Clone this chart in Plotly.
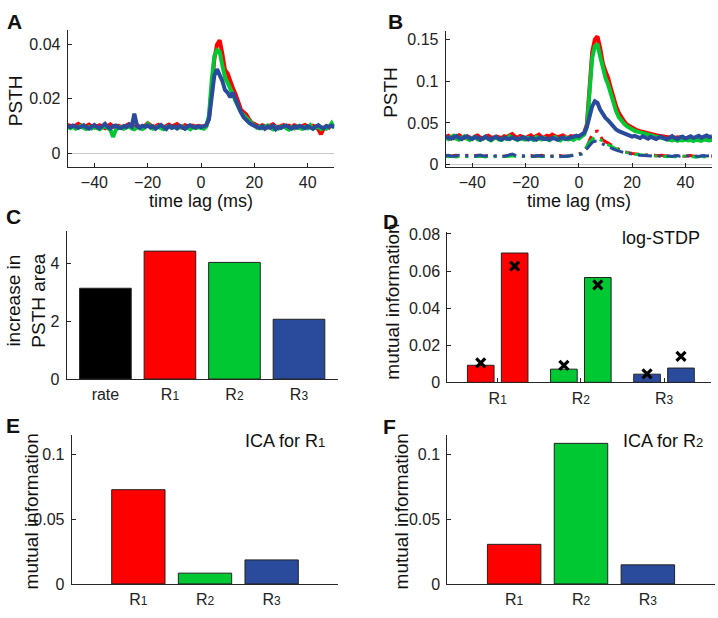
import plotly.graph_objects as go

W, H = 718, 618

# ---------------- data ----------------
t_lag = list(range(-50, 51))

A_red = [0.0104, 0.0100, 0.0097, 0.0102, 0.0108, 0.0101, 0.0096, 0.0100, 0.0105, 0.0098,
         0.0094, 0.0099, 0.0103, 0.0097, 0.0092, 0.0100, 0.0106, 0.0099, 0.0095, 0.0101,
         0.0098, 0.0093, 0.0102, 0.0107, 0.0099, 0.0096, 0.0103, 0.0098, 0.0092, 0.0101,
         0.0110, 0.0103, 0.0095, 0.0099, 0.0104, 0.0097, 0.0093, 0.0100, 0.0105, 0.0098,
         0.0102, 0.0107, 0.0097, 0.0094, 0.0103, 0.0099, 0.0096, 0.0101, 0.0098, 0.0100,
         0.0099, 0.0097, 0.0102, 0.0128, 0.0235, 0.0345, 0.0398, 0.0414, 0.0365, 0.0305,
         0.0292, 0.0262, 0.0238, 0.0215, 0.0185, 0.0160, 0.0150, 0.0142, 0.0125, 0.0112,
         0.0108, 0.0101, 0.0097, 0.0103, 0.0099, 0.0095, 0.0102, 0.0106, 0.0098, 0.0094,
         0.0100, 0.0104, 0.0097, 0.0101, 0.0096, 0.0103, 0.0099, 0.0093, 0.0100, 0.0104,
         0.0098, 0.0095, 0.0101, 0.0097, 0.0088, 0.0070, 0.0090, 0.0099, 0.0094, 0.0101,
         0.0100]
A_green = [0.0098, 0.0092, 0.0097, 0.0090, 0.0095, 0.0101, 0.0093, 0.0089, 0.0096, 0.0091,
           0.0097, 0.0093, 0.0088, 0.0095, 0.0099, 0.0092, 0.0087, 0.0060, 0.0085, 0.0094,
           0.0097, 0.0090, 0.0094, 0.0099, 0.0091, 0.0088, 0.0096, 0.0093, 0.0089, 0.0095,
           0.0108, 0.0096, 0.0090, 0.0094, 0.0099, 0.0092, 0.0088, 0.0095, 0.0100, 0.0093,
           0.0097, 0.0091, 0.0095, 0.0099, 0.0090, 0.0094, 0.0088, 0.0096, 0.0092, 0.0095,
           0.0093, 0.0090, 0.0098, 0.0140, 0.0265, 0.0355, 0.0378, 0.0372, 0.0322, 0.0278,
           0.0258, 0.0240, 0.0215, 0.0190, 0.0168, 0.0150, 0.0140, 0.0132, 0.0120, 0.0110,
           0.0102, 0.0094, 0.0098, 0.0091, 0.0097, 0.0102, 0.0093, 0.0088, 0.0096, 0.0090,
           0.0095, 0.0100, 0.0092, 0.0087, 0.0096, 0.0091, 0.0098, 0.0093, 0.0089, 0.0097,
           0.0092, 0.0103, 0.0090, 0.0095, 0.0098, 0.0089, 0.0094, 0.0090, 0.0096, 0.0110,
           0.0092]
A_blue = [0.0100, 0.0096, 0.0102, 0.0099, 0.0093, 0.0097, 0.0103, 0.0095, 0.0090, 0.0098,
          0.0104, 0.0096, 0.0092, 0.0100, 0.0108, 0.0097, 0.0091, 0.0099, 0.0102, 0.0094,
          0.0092, 0.0100, 0.0096, 0.0105, 0.0098, 0.0145, 0.0100, 0.0093, 0.0101, 0.0097,
          0.0102, 0.0095, 0.0099, 0.0090, 0.0098, 0.0104, 0.0096, 0.0089, 0.0100, 0.0094,
          0.0098, 0.0092, 0.0101, 0.0096, 0.0090, 0.0099, 0.0103, 0.0097, 0.0094, 0.0100,
          0.0096, 0.0099, 0.0104, 0.0125, 0.0215, 0.0285, 0.0308, 0.0290, 0.0265, 0.0232,
          0.0222, 0.0205, 0.0222, 0.0196, 0.0170, 0.0150, 0.0132, 0.0120, 0.0112, 0.0106,
          0.0100, 0.0096, 0.0092, 0.0099, 0.0090, 0.0098, 0.0094, 0.0101, 0.0088, 0.0097,
          0.0093, 0.0099, 0.0102, 0.0095, 0.0090, 0.0098, 0.0094, 0.0101, 0.0097, 0.0092,
          0.0099, 0.0095, 0.0090, 0.0098, 0.0103, 0.0096, 0.0092, 0.0100, 0.0097, 0.0101,
          0.0098]

B_red = [0.0330, 0.0345, 0.0325, 0.0315, 0.0335, 0.0350, 0.0330, 0.0318, 0.0340, 0.0328,
         0.0312, 0.0335, 0.0348, 0.0322, 0.0310, 0.0332, 0.0345, 0.0326, 0.0315, 0.0338,
         0.0325, 0.0318, 0.0340, 0.0330, 0.0352, 0.0365, 0.0335, 0.0320, 0.0342, 0.0330,
         0.0318, 0.0335, 0.0350, 0.0325, 0.0340, 0.0358, 0.0330, 0.0322, 0.0345, 0.0335,
         0.0360, 0.0340, 0.0325, 0.0338, 0.0350, 0.0330, 0.0320, 0.0342, 0.0335, 0.0345,
         0.0340, 0.0350, 0.0380, 0.0480, 0.0950, 0.1350, 0.1500, 0.1540, 0.1400, 0.1220,
         0.1120, 0.1040, 0.0920, 0.0800, 0.0700, 0.0620, 0.0560, 0.0520, 0.0480, 0.0460,
         0.0440, 0.0425, 0.0410, 0.0400, 0.0390, 0.0380, 0.0372, 0.0365, 0.0358, 0.0352,
         0.0345, 0.0340, 0.0335, 0.0330, 0.0325, 0.0333, 0.0320, 0.0328, 0.0318, 0.0325,
         0.0315, 0.0322, 0.0330, 0.0312, 0.0320, 0.0310, 0.0318, 0.0325, 0.0308, 0.0315,
         0.0320]
B_green = [0.0320, 0.0305, 0.0330, 0.0345, 0.0310, 0.0298, 0.0320, 0.0340, 0.0308, 0.0295,
           0.0318, 0.0330, 0.0300, 0.0292, 0.0315, 0.0335, 0.0305, 0.0290, 0.0312, 0.0328,
           0.0300, 0.0295, 0.0320, 0.0305, 0.0340, 0.0330, 0.0308, 0.0295, 0.0318, 0.0305,
           0.0298, 0.0320, 0.0310, 0.0295, 0.0330, 0.0315, 0.0300, 0.0318, 0.0305, 0.0292,
           0.0315, 0.0330, 0.0305, 0.0290, 0.0312, 0.0325, 0.0300, 0.0310, 0.0295, 0.0320,
           0.0312, 0.0330, 0.0360, 0.0450, 0.0900, 0.1280, 0.1420, 0.1450, 0.1300, 0.1140,
           0.1040, 0.0960, 0.0840, 0.0720, 0.0640, 0.0570, 0.0520, 0.0490, 0.0460, 0.0440,
           0.0420, 0.0405, 0.0395, 0.0385, 0.0375, 0.0365, 0.0358, 0.0350, 0.0342, 0.0335,
           0.0328, 0.0320, 0.0312, 0.0305, 0.0298, 0.0290, 0.0300, 0.0285, 0.0295, 0.0290,
           0.0300, 0.0288, 0.0295, 0.0282, 0.0298, 0.0290, 0.0285, 0.0300, 0.0292, 0.0288,
           0.0295]
B_blue = [0.0335, 0.0325, 0.0310, 0.0330, 0.0342, 0.0320, 0.0305, 0.0328, 0.0338, 0.0315,
          0.0305, 0.0330, 0.0322, 0.0300, 0.0318, 0.0335, 0.0312, 0.0298, 0.0325, 0.0330,
          0.0310, 0.0300, 0.0322, 0.0315, 0.0305, 0.0325, 0.0318, 0.0302, 0.0312, 0.0328,
          0.0315, 0.0300, 0.0320, 0.0310, 0.0298, 0.0318, 0.0325, 0.0305, 0.0312, 0.0300,
          0.0320, 0.0310, 0.0298, 0.0315, 0.0325, 0.0305, 0.0318, 0.0330, 0.0340, 0.0345,
          0.0340, 0.0355, 0.0380, 0.0450, 0.0600, 0.0700, 0.0760, 0.0740, 0.0660, 0.0600,
          0.0560, 0.0530, 0.0490, 0.0450, 0.0420, 0.0400, 0.0385, 0.0370, 0.0360, 0.0345,
          0.0335, 0.0345, 0.0330, 0.0318, 0.0340, 0.0325, 0.0310, 0.0332, 0.0320, 0.0305,
          0.0325, 0.0335, 0.0315, 0.0300, 0.0322, 0.0340, 0.0318, 0.0305, 0.0328, 0.0335,
          0.0312, 0.0325, 0.0340, 0.0318, 0.0330, 0.0345, 0.0322, 0.0335, 0.0348, 0.0330,
          0.0340]

B_red_ctrl = [0.0110, 0.0105, 0.0100, 0.0108, 0.0112, 0.0103, 0.0098, 0.0106, 0.0110, 0.0102,
              0.0097, 0.0105, 0.0110, 0.0102, 0.0096, 0.0104, 0.0109, 0.0100, 0.0095, 0.0103,
              0.0108, 0.0101, 0.0097, 0.0105, 0.0112, 0.0118, 0.0105, 0.0099, 0.0106, 0.0102,
              0.0096, 0.0104, 0.0110, 0.0101, 0.0097, 0.0106, 0.0111, 0.0103, 0.0098, 0.0105,
              0.0100, 0.0095, 0.0103, 0.0108, 0.0101, 0.0097, 0.0104, 0.0110, 0.0115, 0.0120,
              0.0125, 0.0135, 0.0160, 0.0210, 0.0290, 0.0360, 0.0395, 0.0400, 0.0345, 0.0295,
              0.0275, 0.0255, 0.0235, 0.0215, 0.0195, 0.0178, 0.0165, 0.0155, 0.0145, 0.0138,
              0.0132, 0.0128, 0.0124, 0.0120, 0.0117, 0.0115, 0.0112, 0.0110, 0.0113, 0.0108,
              0.0104, 0.0110, 0.0106, 0.0101, 0.0108, 0.0103, 0.0099, 0.0106, 0.0110, 0.0102,
              0.0098, 0.0105, 0.0109, 0.0101, 0.0097, 0.0104, 0.0100, 0.0096, 0.0103, 0.0107,
              0.0102]
B_green_ctrl = [0.0100, 0.0095, 0.0103, 0.0098, 0.0092, 0.0100, 0.0105, 0.0097, 0.0093, 0.0101,
                0.0105, 0.0098, 0.0094, 0.0102, 0.0096, 0.0091, 0.0099, 0.0085, 0.0094, 0.0100,
                0.0097, 0.0092, 0.0100, 0.0095, 0.0101, 0.0106, 0.0098, 0.0094, 0.0100, 0.0096,
                0.0102, 0.0097, 0.0093, 0.0100, 0.0105, 0.0098, 0.0094, 0.0101, 0.0096, 0.0092,
                0.0099, 0.0104, 0.0097, 0.0093, 0.0100, 0.0096, 0.0102, 0.0105, 0.0110, 0.0115,
                0.0118, 0.0130, 0.0165, 0.0220, 0.0270, 0.0300, 0.0320, 0.0325, 0.0300, 0.0275,
                0.0255, 0.0238, 0.0220, 0.0202, 0.0186, 0.0172, 0.0160, 0.0150, 0.0142, 0.0135,
                0.0128, 0.0124, 0.0120, 0.0116, 0.0113, 0.0110, 0.0107, 0.0111, 0.0104, 0.0100,
                0.0097, 0.0103, 0.0099, 0.0094, 0.0100, 0.0096, 0.0092, 0.0098, 0.0102, 0.0095,
                0.0100, 0.0094, 0.0098, 0.0093, 0.0088, 0.0095, 0.0100, 0.0091, 0.0096, 0.0099,
                0.0094]
B_blue_ctrl = [0.0105, 0.0110, 0.0102, 0.0098, 0.0106, 0.0112, 0.0104, 0.0099, 0.0107, 0.0111,
               0.0103, 0.0100, 0.0108, 0.0113, 0.0105, 0.0101, 0.0109, 0.0104, 0.0099, 0.0106,
               0.0110, 0.0104, 0.0100, 0.0107, 0.0115, 0.0125, 0.0112, 0.0103, 0.0108, 0.0104,
               0.0100, 0.0106, 0.0102, 0.0097, 0.0104, 0.0109, 0.0101, 0.0098, 0.0105, 0.0100,
               0.0096, 0.0102, 0.0107, 0.0099, 0.0095, 0.0103, 0.0098, 0.0104, 0.0108, 0.0112,
               0.0115, 0.0125, 0.0150, 0.0190, 0.0235, 0.0265, 0.0280, 0.0280, 0.0262, 0.0245,
               0.0228, 0.0212, 0.0198, 0.0185, 0.0172, 0.0160, 0.0150, 0.0142, 0.0135, 0.0128,
               0.0122, 0.0118, 0.0115, 0.0112, 0.0109, 0.0106, 0.0110, 0.0104, 0.0101, 0.0107,
               0.0103, 0.0099, 0.0105, 0.0109, 0.0101, 0.0097, 0.0104, 0.0108, 0.0100, 0.0106,
               0.0110, 0.0103, 0.0099, 0.0106, 0.0102, 0.0097, 0.0104, 0.0108, 0.0101, 0.0105,
               0.0100]

C_labels = ["rate", "R<span style='font-size:12px'>1</span>",
            "R<span style='font-size:12px'>2</span>", "R<span style='font-size:12px'>3</span>"]
C_values = [3.13, 4.41, 4.02, 2.06]

D_labels = ["R<span style='font-size:12px'>1</span>",
            "R<span style='font-size:12px'>2</span>", "R<span style='font-size:12px'>3</span>"]
D_bar_first = [0.0092, 0.0071, 0.0044]
D_bar_second = [0.0697, 0.0565, 0.0077]
D_cross_first = [0.0105, 0.0092, 0.0046]
D_cross_second = [0.0626, 0.0525, 0.0140]

E_labels = D_labels
E_values = [0.0726, 0.0083, 0.0185]
F_values = [0.0305, 0.1083, 0.0147]

# ---------------- style ----------------
RED = "#ff0000"
GREEN = "#00c832"
BLUE = "#2a4b9b"
BLACK = "#000000"
FONT = "Liberation Sans, Arial, sans-serif"
AX = "#262626"
TICKF = 16


def px_x(x):
    return x / W


def px_y(y):
    return 1 - y / H


fig = go.Figure()

# panel A
for ys, c in [(A_red, RED), (A_green, GREEN), (A_blue, BLUE)]:
    fig.add_trace(go.Scatter(x=t_lag, y=ys, mode="lines", line=dict(color=c, width=4),
                             xaxis="x", yaxis="y", showlegend=False, hoverinfo="skip"))
# panel B
for ys, c in [(B_red, RED), (B_green, GREEN), (B_blue, BLUE)]:
    fig.add_trace(go.Scatter(x=t_lag, y=ys, mode="lines", line=dict(color=c, width=4),
                             xaxis="x2", yaxis="y2", showlegend=False, hoverinfo="skip"))
for ys, c in [(B_red_ctrl, RED), (B_green_ctrl, GREEN), (B_blue_ctrl, BLUE)]:
    fig.add_trace(go.Scatter(x=t_lag, y=ys, mode="lines",
                             line=dict(color=c, width=3, dash="14px,6px,3px,6px"),
                             xaxis="x2", yaxis="y2", showlegend=False, hoverinfo="skip"))

# panel C
C_pos = list(range(len(C_values)))
fig.add_trace(go.Bar(x=C_pos, y=C_values, width=0.8,
                     marker=dict(color=[BLACK, RED, GREEN, BLUE], line=dict(color="#222", width=1)),
                     xaxis="x3", yaxis="y3", showlegend=False, hoverinfo="skip"))

# panel D
D_pos = list(range(len(D_labels)))
D_OFF = 0.204
D_W = 0.32
D_cols = [RED, GREEN, BLUE]
fig.add_trace(go.Bar(x=D_pos, y=D_bar_first, width=D_W, offset=-D_OFF - D_W / 2,
                     marker=dict(color=D_cols, line=dict(color="#222", width=1)),
                     xaxis="x4", yaxis="y4", showlegend=False, hoverinfo="skip"))
fig.add_trace(go.Bar(x=D_pos, y=D_bar_second, width=D_W, offset=D_OFF - D_W / 2,
                     marker=dict(color=D_cols, line=dict(color="#222", width=1)),
                     xaxis="x4", yaxis="y4", showlegend=False, hoverinfo="skip"))
fig.add_trace(go.Scatter(x=[p - D_OFF for p in D_pos], y=D_cross_first, mode="markers",
                         marker=dict(symbol="x-thin", size=9, line=dict(color=BLACK, width=3.2)),
                         xaxis="x4", yaxis="y4", showlegend=False, hoverinfo="skip"))
fig.add_trace(go.Scatter(x=[p + D_OFF for p in D_pos], y=D_cross_second, mode="markers",
                         marker=dict(symbol="x-thin", size=9, line=dict(color=BLACK, width=3.2)),
                         xaxis="x4", yaxis="y4", showlegend=False, hoverinfo="skip"))

# panel E / F
EF_pos = [1, 2, 3]
fig.add_trace(go.Bar(x=EF_pos, y=E_values, width=0.8,
                     marker=dict(color=D_cols, line=dict(color="#222", width=1)),
                     xaxis="x5", yaxis="y5", showlegend=False, hoverinfo="skip"))
fig.add_trace(go.Bar(x=EF_pos, y=F_values, width=0.8,
                     marker=dict(color=D_cols, line=dict(color="#222", width=1)),
                     xaxis="x6", yaxis="y6", showlegend=False, hoverinfo="skip"))


def xax(dom, rng, tv, tt, anchor, ticks="inside", layer="above traces"):
    return dict(domain=[px_x(dom[0]), px_x(dom[1])], range=rng, tickvals=tv, ticktext=tt,
                anchor=anchor, showline=True, linecolor=AX, linewidth=1, ticks=ticks,
                ticklen=4, tickcolor=AX, showgrid=False, zeroline=False,
                tickfont=dict(family=FONT, size=TICKF, color="#222"),
                ticklabelstandoff=1, fixedrange=True, layer=layer)


def yax(dom, rng, tv, tt, anchor, zeroline=False, layer="above traces"):
    return dict(domain=[px_y(dom[1]), px_y(dom[0])], range=rng, tickvals=tv, ticktext=tt,
                anchor=anchor, showline=True, linecolor=AX, linewidth=1, ticks="inside",
                ticklen=4, tickcolor=AX, showgrid=False, zeroline=zeroline,
                zerolinecolor="#c8c8c8", zerolinewidth=1,
                tickfont=dict(family=FONT, size=TICKF, color="#222"),
                ticklabelstandoff=3, fixedrange=True, layer=layer)


tA = [-40, -20, 0, 20, 40]
fig.update_layout(
    xaxis=xax((67.7, 334.3), [-50, 50], tA, None, "y"),
    yaxis=yax((25, 165), [-0.005, 0.045], [0, 0.02, 0.04], ["0", "0.02", "0.04"], "x", zeroline=True),
    xaxis2=xax((445.7, 712), [-50, 50], tA, None, "y2"),
    yaxis2=yax((26, 165), [-0.003, 0.16], [0, 0.05, 0.1, 0.15], ["0", "0.05", "0.1", "0.15"], "x2",
               zeroline=True),
    xaxis3=xax((66.7, 337.7), [-0.6, 3.6], C_pos, C_labels, "y3", layer="below traces"),
    yaxis3=yax((230.7, 382.3), [0, 5.1], [0, 2, 4], ["0", "2", "4"], "x3", layer="below traces"),
    xaxis4=xax((447.3, 711), [-0.606, 2.565], D_pos, D_labels, "y4", layer="below traces"),
    yaxis4=yax((231.7, 385.7), [0, 0.081], [0, 0.02, 0.04, 0.06, 0.08],
               ["0", "0.02", "0.04", "0.06", "0.08"], "x4", layer="below traces"),
    xaxis5=xax((71.7, 338.3), [0, 4], EF_pos, E_labels, "y5", layer="below traces"),
    yaxis5=yax((440, 592.3), [0, 0.1145], [0, 0.05, 0.1], ["0", "0.05", "0.1"], "x5", layer="below traces"),
    xaxis6=xax((447.3, 714.7), [0, 4], EF_pos, E_labels, "y6", layer="below traces"),
    yaxis6=yax((440, 592.3), [0, 0.1145], [0, 0.05, 0.1], ["0", "0.05", "0.1"], "x6", layer="below traces"),
)


def note(text, x, y, size, angle=0, bold=False):
    fig.add_annotation(text=f"<b>{text}</b>" if bold else text, x=px_x(x), y=px_y(y),
                       xref="paper", yref="paper", xanchor="center", yanchor="middle",
                       showarrow=False, textangle=angle,
                       font=dict(family=FONT, size=size, color="#111"))


# panel letters
for letter, x, y in [("A", 14, 15.5), ("B", 395.5, 15.5), ("C", 13.5, 215.5),
                     ("D", 390.5, 221), ("E", 12.5, 429.5), ("F", 389.5, 430.5)]:
    note(letter, x, y, 21, bold=True)

# axis titles
note("time lag (ms)", 201, 200, 18)
note("time lag (ms)", 579, 200, 18)
note("PSTH", 15.5, 97, 19, angle=-90)
note("PSTH", 390.5, 88.5, 19, angle=-90)
note("increase in<br>PSTH area", 26, 302, 19, angle=-90)
note("mutual information", 393, 303, 19, angle=-90)
note("mutual information", 31, 518, 19, angle=-90)
note("mutual information", 401, 518, 19, angle=-90)

# in-panel labels
note("log-STDP", 661, 238, 18)
note("ICA for R<span style='font-size:13px'>1</span>", 284.5, 446, 18)
note("ICA for R<span style='font-size:13px'>2</span>", 662.5, 446, 18)

fig.update_layout(width=W, height=H, margin=dict(l=0, r=0, t=0, b=0),
                  paper_bgcolor="white", plot_bgcolor="white", showlegend=False,
                  barmode="overlay")

fig.write_html("out.html", config={"displayModeBar": False},
               post_script="document.body.style.margin='0px';document.body.style.overflow='hidden';")
